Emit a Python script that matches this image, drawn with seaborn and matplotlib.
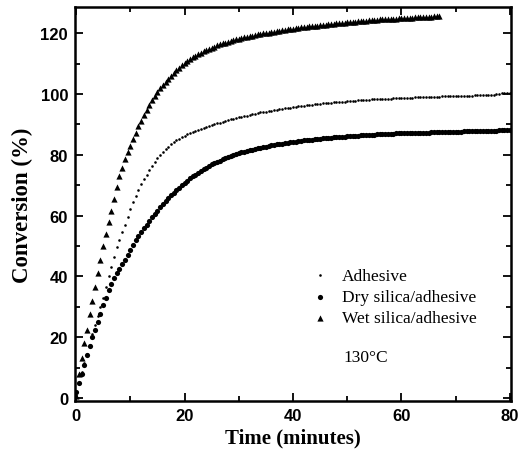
import numpy as np
import pandas as pd
import matplotlib
matplotlib.use("Agg")
import matplotlib.pyplot as plt
import seaborn as sns
from matplotlib.ticker import MultipleLocator

# ---- data (conversion %, sampled every 0.5 min) ----
sample_step_min = 0.5

adhesive = [1, 5, 8.5, 11.5, 14.5, 17.5, 21, 24, 27, 30,
            33, 36.5, 40, 43, 46.5, 49.5, 52, 54.5, 57, 59.5,
            62, 64.5, 66.5, 68.5, 70.3, 72, 73.5, 75, 76.4, 77.7,
            78.9, 80, 81, 81.9, 82.7, 83.4, 84.1, 84.7, 85.3, 85.8,
            86.3, 86.7, 87.1, 87.5, 87.9, 88.2, 88.6, 88.9, 89.2, 89.5,
            89.8, 90.1, 90.4, 90.6, 90.9, 91.1, 91.4, 91.6, 91.8, 92.0,
            92.3, 92.5, 92.7, 92.9, 93.1, 93.3, 93.5, 93.7, 93.9, 94.0,
            94.2, 94.4, 94.5, 94.7, 94.8, 95.0, 95.1, 95.3, 95.4, 95.5,
            95.7, 95.8, 95.9, 96.0, 96.1, 96.3, 96.4, 96.5, 96.6, 96.7,
            96.8, 96.9, 97.0, 97.1, 97.1, 97.2, 97.3, 97.4, 97.5, 97.5,
            97.6, 97.7, 97.7, 97.8, 97.9, 97.9, 98.0, 98.1, 98.1, 98.2,
            98.2, 98.3, 98.3, 98.4, 98.4, 98.5, 98.5, 98.6, 98.6, 98.7,
            98.7, 98.7, 98.8, 98.8, 98.8, 98.9, 98.9, 98.9, 99.0, 99.0,
            99.0, 99.1, 99.1, 99.1, 99.1, 99.2, 99.2, 99.2, 99.2, 99.3,
            99.3, 99.3, 99.3, 99.4, 99.4, 99.4, 99.4, 99.5, 99.5, 99.5,
            99.5, 99.5, 99.6, 99.6, 99.7, 99.9, 100.1, 100.2, 100.2, 100.3,
            100.3]

dry_silica = [2, 5, 8, 11, 14, 17, 20, 22.5, 25, 27.5,
              30.5, 33, 35.5, 37.5, 39.5, 41, 42.5, 44, 45.5, 47,
              48.7, 50.3, 51.8, 53.2, 54.5, 55.8, 57, 58.2, 59.4, 60.5,
              61.6, 62.7, 63.7, 64.7, 65.7, 66.6, 67.5, 68.4, 69.2, 70,
              70.8, 71.5, 72.2, 72.9, 73.5, 74.1, 74.7, 75.3, 75.8, 76.3,
              76.8, 77.3, 77.7, 78.1, 78.5, 78.9, 79.3, 79.6, 79.9, 80.2,
              80.5, 80.8, 81.0, 81.3, 81.5, 81.7, 81.9, 82.1, 82.3, 82.5,
              82.7, 82.9, 83.1, 83.2, 83.4, 83.5, 83.7, 83.8, 84.0, 84.1,
              84.2, 84.3, 84.5, 84.6, 84.7, 84.8, 84.9, 85.0, 85.1, 85.2,
              85.3, 85.4, 85.5, 85.6, 85.6, 85.7, 85.8, 85.9, 85.9, 86.0,
              86.1, 86.1, 86.2, 86.3, 86.3, 86.4, 86.4, 86.5, 86.5, 86.6,
              86.6, 86.7, 86.7, 86.8, 86.8, 86.8, 86.9, 86.9, 87.0, 87.0,
              87.0, 87.1, 87.1, 87.1, 87.2, 87.2, 87.2, 87.3, 87.3, 87.3,
              87.3, 87.4, 87.4, 87.4, 87.4, 87.5, 87.5, 87.5, 87.5, 87.6,
              87.6, 87.6, 87.6, 87.7, 87.7, 87.7, 87.7, 87.7, 87.8, 87.8,
              87.8, 87.8, 87.9, 87.9, 87.9, 87.9, 88.0, 88.0, 88.0, 88.0,
              88.0]

wet_silica = [0.5, 8, 13, 18, 22.5, 27.5, 32, 36.5, 41, 45.5,
              50, 54, 58, 61.5, 65.5, 69.5, 73, 75.5, 78.5, 81,
              83, 85.2, 87.3, 89.3, 91.2, 93, 94.8, 96.4, 97.9, 99.3,
              100.6, 101.8, 102.9, 104, 105, 106, 106.9, 107.8, 108.6, 109.4,
              110.1, 110.8, 111.4, 112, 112.5, 113, 113.5, 114, 114.4, 114.8,
              115.2, 115.6, 116, 116.3, 116.6, 116.9, 117.2, 117.5, 117.7, 118,
              118.2, 118.4, 118.6, 118.8, 119, 119.2, 119.4, 119.6, 119.8, 119.9,
              120.1, 120.2, 120.4, 120.5, 120.7, 120.8, 121, 121.1, 121.2, 121.4,
              121.5, 121.6, 121.8, 121.9, 122, 122.1, 122.2, 122.3, 122.4, 122.5,
              122.6, 122.7, 122.8, 122.9, 123, 123.1, 123.2, 123.3, 123.4, 123.5,
              123.6, 123.6, 123.7, 123.8, 123.9, 124, 124, 124.1, 124.2, 124.3,
              124.3, 124.4, 124.5, 124.5, 124.6, 124.7, 124.7, 124.8, 124.8, 124.9,
              124.9, 125, 125, 125.1, 125.1, 125.2, 125.2, 125.3, 125.3, 125.3,
              125.4, 125.4, 125.5, 125.5, 125.5]

series_labels = ["Adhesive", "Dry silica/adhesive", "Wet silica/adhesive"]
x_ticks = [0, 20, 40, 60, 80]
y_ticks = [0, 20, 40, 60, 80, 100, 120]
annotation = "130°C"


def frame(values, label):
    t = np.arange(len(values)) * sample_step_min
    return pd.DataFrame({"Time": t, "Conversion": values, "Series": label})


df_a = frame(adhesive, series_labels[0])
df_d = frame(dry_silica, series_labels[1])
df_w = frame(wet_silica, series_labels[2])

sns.set_theme(style="ticks")
plt.rcParams["font.family"] = ["Liberation Serif", "DejaVu Serif"]
plt.rcParams["text.color"] = "black"
plt.rcParams["axes.labelcolor"] = "black"
plt.rcParams["xtick.color"] = "black"
plt.rcParams["ytick.color"] = "black"

fig = plt.figure(figsize=(5.22, 4.6), dpi=100)
ax = fig.add_axes([75 / 522, 1 - 402 / 460, (511 - 75) / 522, (402 - 8) / 460])

sns.scatterplot(data=df_a, x="Time", y="Conversion", ax=ax, color="black",
                marker="o", s=3.5, linewidth=0, label=series_labels[0])
sns.scatterplot(data=df_d, x="Time", y="Conversion", ax=ax, color="black",
                marker="o", s=14, linewidth=0, label=series_labels[1])
sns.scatterplot(data=df_w, x="Time", y="Conversion", ax=ax, color="black",
                marker="^", s=20, linewidth=0, label=series_labels[2])

ax.set_xlim(-0.2, 80.2)
ax.set_ylim(-1, 128.6)
ax.set_xticks(x_ticks)
ax.set_yticks(y_ticks)
ax.xaxis.set_minor_locator(MultipleLocator(10))
ax.yaxis.set_minor_locator(MultipleLocator(10))
ax.tick_params(which="both", direction="in", top=True, right=True,
               color="black", labelcolor="black", width=1.3)
ax.tick_params(which="major", length=6, pad=5)
ax.tick_params(which="minor", length=3.5)
for lab in ax.get_xticklabels() + ax.get_yticklabels():
    lab.set_family("Liberation Sans")
    lab.set_fontweight("bold")
    lab.set_fontsize(12)
    lab.set_color("black")
for sp in ax.spines.values():
    sp.set_linewidth(1.8)
    sp.set_color("black")

ax.set_xlabel("Time (minutes)", fontsize=15, fontweight="bold", labelpad=3,
              color="black")
ax.set_ylabel("Conversion (%)", fontsize=16.5, fontweight="bold", labelpad=5,
              color="black")

leg = ax.legend(loc="center left", bbox_to_anchor=(0.542, 0.264),
                frameon=False, fontsize=12.5, handlelength=1.0,
                handletextpad=0.75, labelspacing=0.3, borderpad=0,
                borderaxespad=0, markerscale=1.0)
for h in leg.legend_handles:
    h.set_color("black")
for txt in leg.get_texts():
    txt.set_color("black")

ax.text(0.615, 0.112, annotation, transform=ax.transAxes, fontsize=12.5,
        ha="left", va="center", color="black")

fig.savefig("out.png", dpi=100)
